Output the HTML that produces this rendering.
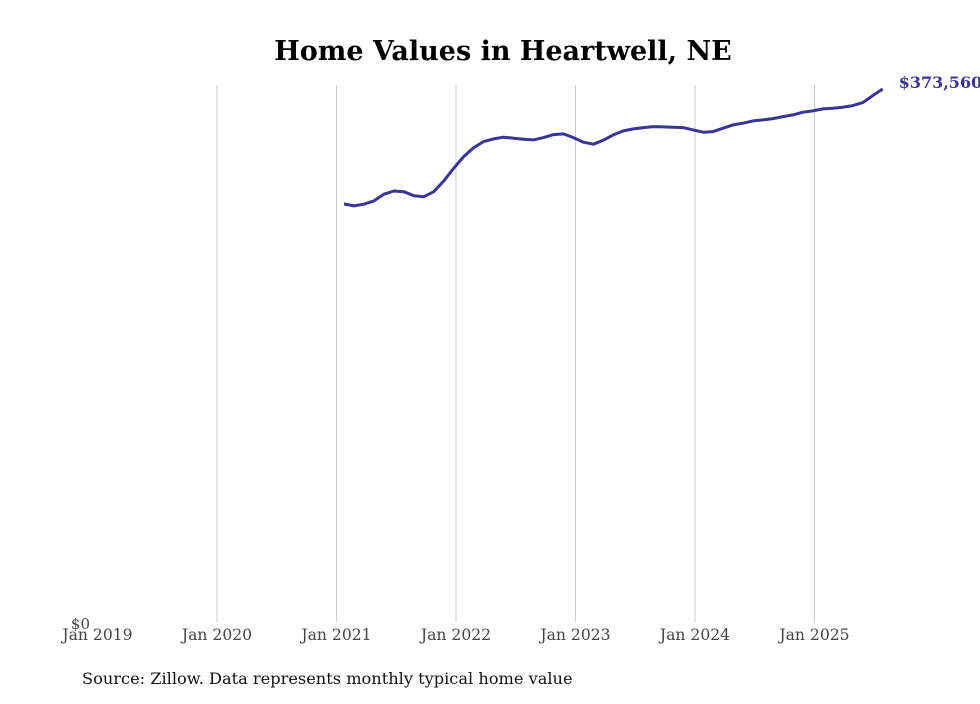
<!DOCTYPE html>
<html><head><meta charset="utf-8"><style>
body{margin:0;background:#fff;}
svg text{font-family:"DejaVu Serif","Liberation Serif",serif;}
</style></head><body>
<svg width="980" height="699">
<text x="503" y="60" text-anchor="middle" font-size="27" font-weight="bold" fill="#000">Home Values in Heartwell, NE</text>
<g id="grid"></g><g id="xlabels"></g>
<text x="90" y="629" text-anchor="end" font-size="15" fill="#444">$0</text>
<path id="line" fill="none" stroke="#3b3494" stroke-width="3" stroke-linejoin="round"></path>
<text id="endlabel" font-size="16" font-weight="bold" fill="#3b3494"></text>
<text x="82" y="684" font-size="16.2" fill="#111">Source: Zillow. Data represents monthly typical home value</text>
</svg>
<script>
const years=[2019,2020,2021,2022,2023,2024,2025];
const startMonth=[2021,0.75];
const values=[293000,291600,292800,295100,299800,302100,301600,298800,298100,301600,309100,318000,326200,332500,336700,338600,339800,339100,338400,337900,339500,341600,342100,339500,336300,334900,337700,341400,344200,345600,346500,347200,347000,346800,346500,344900,343300,343700,346100,348400,349600,351200,351900,352800,354200,355400,357300,358200,359600,360100,360800,361900,364000,368900,373560];
const NS="http://www.w3.org/2000/svg";
const x0=97.5,pxYear=119.5,y0=622,pxPer=533/373560;
const xs=t=>x0+(t-2019)*pxYear;
const ys=v=>y0-v*pxPer;
const g=document.getElementById('grid'),xl=document.getElementById('xlabels');
years.forEach((yr,i)=>{
 const x=xs(yr);
 if(i>0){const l=document.createElementNS(NS,'line');
 l.setAttribute('x1',x);l.setAttribute('x2',x);l.setAttribute('y1',85);l.setAttribute('y2',y0);
 l.setAttribute('stroke','#ccc');l.setAttribute('stroke-width','1');
 
 
 g.appendChild(l);}
 const t=document.createElementNS(NS,'text');
 t.setAttribute('x',x);t.setAttribute('y',640);t.setAttribute('text-anchor','middle');
 t.setAttribute('font-size','15.6');t.setAttribute('fill','#444');
 t.textContent='Jan '+yr;
 
 
 xl.appendChild(t);
});
let d='';let lx,ly;
const n=values.length;
values.forEach((v,i)=>{
 const t=startMonth[0]+(startMonth[1]+i*(54.1/(n-1)))/12;
 lx=xs(t);ly=ys(v);
 d+=(i?'L':'M')+lx.toFixed(1)+' '+ly.toFixed(1);
});
document.getElementById('line').setAttribute('d',d);
const el=document.getElementById('endlabel');
el.setAttribute('x',lx+16);el.setAttribute('y',ly-1);
el.textContent='$'+values[values.length-1].toLocaleString('en-US');
</script>
</body></html>
